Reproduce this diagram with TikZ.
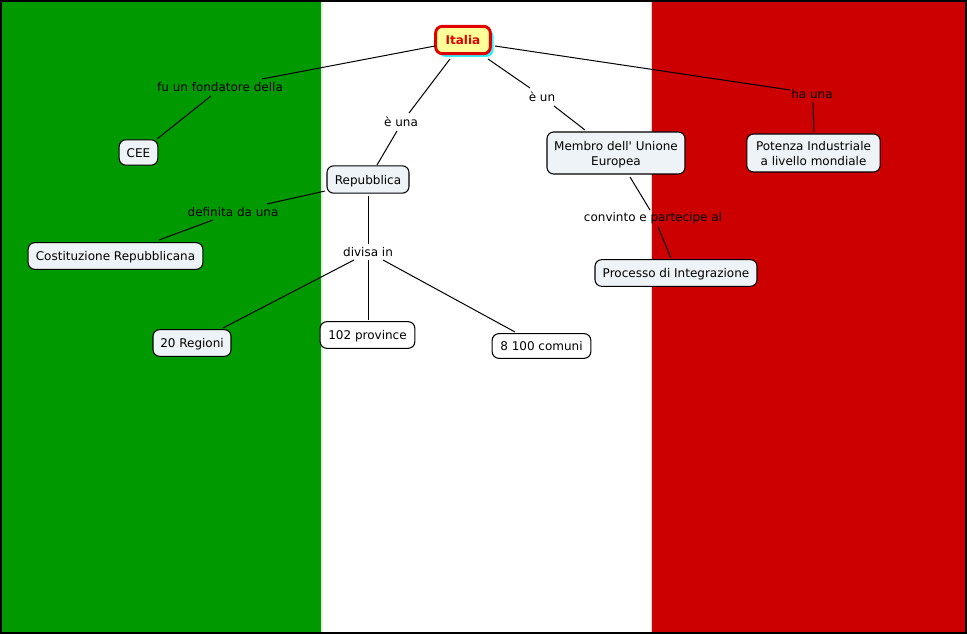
\documentclass[tikz,border=0pt]{standalone}
\usepackage{fontspec}
\newfontfamily\diagramfont{DejaVu Sans}
\usetikzlibrary{calc,shadows}
\definecolor{flaggreen}{HTML}{009900}
\definecolor{flagred}{HTML}{CC0000}
\definecolor{boxfill}{HTML}{EDF3F6}
\definecolor{rootfill}{HTML}{FFFF99}
\definecolor{rootline}{HTML}{E00000}
\definecolor{rootshadow}{HTML}{33EEFF}
\newcommand{\nudged}[1]{\begin{tabular}{@{}c@{}}\rule{0pt}{10.4pt}#1\end{tabular}}
\tikzset{
  concept/.style={draw=black,fill=boxfill,line width=0.8pt,rounded corners=5pt,inner sep=0pt,align=center,text=black,font=\diagramfont\fontsize{9pt}{11pt}\selectfont},
  rootconcept/.style={draw=rootline,fill=rootfill,line width=2.2pt,rounded corners=5pt,inner sep=0pt,align=center,text=rootline,font=\diagramfont\fontsize{9pt}{11pt}\selectfont\bfseries,general shadow={shadow xshift=2.4pt,shadow yshift=-2.4pt,fill=rootshadow}},
  linklabel/.style={inner sep=0pt,text=black,font=\diagramfont\fontsize{9pt}{11pt}\selectfont},
  link/.style={draw=black,line width=0.75pt},
}
\begin{document}
\begin{tikzpicture}[x=0.75pt,y=-0.75pt]
\useasboundingbox (0,0) rectangle (967,634);
\fill[flaggreen] (0,0) rectangle (321,634);
\fill[white] (321,0) rectangle (652,634);
\fill[flagred] (652,0) rectangle (967,634);
\fill[flaggreen!12] (321,0) rectangle (323,634);
\fill[flagred!20] (650.5,0) rectangle (652,634);
\draw[black,line width=1.5pt] (1,1) rectangle (966,633);
% concepts
\node[rootconcept,minimum width=41pt,minimum height=20.5pt] (italia) at (463,40) {\nudged{Italia}};
\node[concept,minimum width=29pt,minimum height=19pt] (cee) at (138.5,152.5) {\nudged{CEE}};
\node[concept,minimum width=61.5pt,minimum height=20.5pt] (rep) at (368,179.5) {\nudged{Repubblica}};
\node[concept,minimum width=103.5pt,minimum height=31.5pt] (membro) at (616,153) {\nudged{Membro dell' Unione\\Europea}};
\node[concept,minimum width=100pt,minimum height=28.5pt] (pot) at (813.5,153) {\nudged{Potenza Industriale\\a livello mondiale}};
\node[concept,minimum width=131pt,minimum height=20pt] (cost) at (115.5,256) {\nudged{Costituzione Repubblicana}};
\node[concept,minimum width=58.5pt,minimum height=20pt] (reg) at (192,343) {\nudged{20 Regioni}};
\node[concept,fill=white,minimum width=71pt,minimum height=20pt] (prov) at (367.5,335) {\nudged{102 province}};
\node[concept,fill=white,minimum width=74pt,minimum height=18.5pt] (com) at (541.5,346) {\nudged{8 100 comuni}};
\node[concept,minimum width=121.5pt,minimum height=20pt] (proc) at (676,273) {\nudged{Processo di Integrazione}};
% link labels
\node[linklabel] (l1) at (220,87) {\nudged{fu un fondatore della}};
\node[linklabel] (l2) at (401,122) {\nudged{è una}};
\node[linklabel] (l3) at (542,97) {\nudged{è un}};
\node[linklabel] (l4) at (812,94) {\nudged{ha una}};
\node[linklabel] (l5) at (233,212) {\nudged{definita da una}};
\node[linklabel] (l6) at (368,252) {\nudged{divisa in}};
\node[linklabel] (l7) at (653,217) {\nudged{convinto e partecipe al}};
% connectors
\draw[link] ($(italia)+(-28,6)$) -- ($(l1)+(42,-8)$);
\draw[link] ($(l1)+(-9,9)$) -- ($(cee)+(18.5,-13.5)$);
\draw[link] ($(italia)+(-13,19)$) -- ($(l2)+(8,-9)$);
\draw[link] ($(l2)+(-4,9)$) -- ($(rep)+(9,-14.5)$);
\draw[link] ($(italia)+(25,19)$) -- ($(l3)+(-12,-9)$);
\draw[link] ($(l3)+(12,9)$) -- ($(membro)+(-31,-23)$);
\draw[link] ($(italia)+(32,6)$) -- ($(l4)+(-22,-4)$);
\draw[link] ($(l4)+(1,8)$) -- ($(pot)+(0.5,-21)$);
\draw[link] ($(rep)+(-43,11.5)$) -- ($(l5)+(34,-8)$);
\draw[link] ($(l5)+(-20,8)$) -- ($(cost)+(43.5,-16)$);
\draw[link] ($(rep)+(0,16.5)$) -- ($(l6)+(0,-8)$);
\draw[link] ($(l6)+(0,8)$) -- ($(prov)+(0.5,-15)$);
\draw[link] ($(l6)+(-14,8)$) -- ($(reg)+(31,-15)$);
\draw[link] ($(l6)+(15,8)$) -- ($(com)+(-26.5,-14)$);
\draw[link] ($(membro)+(14,24)$) -- ($(l7)+(-3,-7)$);
\draw[link] ($(l7)+(5,10)$) -- ($(proc)+(-5,-15)$);
\end{tikzpicture}
\end{document}
